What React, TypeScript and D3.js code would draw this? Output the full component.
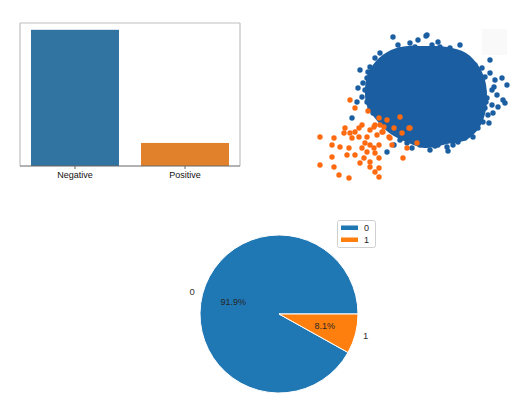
import React from "react";
import * as d3 from "d3";

// ---- Bar chart data ----
const barCategories = ["Negative", "Positive"];
const barValues = [4400, 745];
const barColors = ["#3274a1", "#e1812c"];

// ---- Scatter data (arbitrary feature units) ----
const blobOutline: [number, number][] = [
  [55, 90], [57, 109], [66, 124], [81, 135], [98, 139], [115, 139], [137, 138], [156, 132],
  [168, 120], [175, 105], [177, 87], [175, 71], [169, 57], [156, 45], [137, 41], [115, 37],
  [94, 44], [78, 53], [64, 68], [57, 79],
];
const bluePoints: [number, number][] = [
  [83, 148], [108, 145], [116, 149], [70, 132], [65, 127], [60, 118], [50, 115], [58, 113],
  [57, 107], [53, 102], [48, 97], [55, 95], [52, 88], [57, 83], [47, 83], [60, 77],
  [42, 67], [63, 72], [73, 123], [80, 130], [97, 132], [77, 117], [67, 110], [63, 100],
  [65, 90], [68, 82], [72, 73], [80, 67], [88, 60], [97, 57], [107, 50], [113, 45],
  [93, 50], [87, 53], [110, 40], [97, 42], [90, 45],
  [117, 150], [130, 138], [140, 137], [122, 140], [152, 128], [157, 127], [165, 120], [172, 117],
  [180, 125], [175, 108], [185, 105], [192, 107], [197, 100], [182, 95], [187, 90], [193, 85],
  [195, 82], [188, 78], [182, 80], [177, 87], [178, 70], [183, 72], [173, 63], [168, 57],
  [163, 48], [155, 47], [148, 43], [143, 40], [137, 38], [128, 40], [138, 34], [120, 35],
  [172, 100], [175, 77], [170, 70], [162, 60], [102, 37], [92, 47], [84, 40], [77, 33],
  [160, 123], [145, 130], [168, 110], [174, 93], [176, 83], [160, 53], [145, 45], [125, 39],
  [105, 43], [75, 63], [59, 93], [61, 105], [68, 119], [90, 135], [105, 138],
  [180, 112], [184, 98], [179, 62], [150, 140], [128, 143], [100, 142], [88, 140],
];
const orangePoints: [number, number][] = [
  [40, 85], [45, 77], [69, 67], [77, 65], [90, 68], [99, 57], [84, 57], [74, 58],
  [64, 58], [60, 55], [52, 60], [49, 57], [45, 53], [40, 52], [35, 57], [34, 52],
  [42, 47], [49, 48], [57, 48], [67, 50], [72, 53], [79, 48], [10, 48], [24, 47],
  [22, 40], [30, 38], [55, 42], [60, 40], [64, 37], [69, 40], [82, 40], [52, 37],
  [39, 37], [57, 33], [65, 32], [45, 30], [37, 30], [22, 28], [54, 27], [69, 27],
  [60, 23], [50, 22], [10, 20], [24, 18], [60, 18], [69, 17], [65, 13], [29, 10],
  [39, 7], [69, 8], [58, 74], [70, 60], [65, 60], [73, 53], [92, 52], [100, 57],
  [80, 47], [107, 42], [97, 37], [93, 27],
];

// ---- Pie data ----
const pieLabels = ["0", "1"];
const pieValues = [91.9, 8.1];
const pieColors = ["#1f77b4", "#ff7f0e"];

export default function App() {
  // Bar chart
  const bx = d3.scaleBand<string>().domain(barCategories).range([20, 240]).padding(0);
  const by = d3.scaleLinear().domain([0, d3.max(barValues)! * 1.05]).range([166, 23]);
  const barW = bx.bandwidth() * 0.8;

  // Scatter
  const sx = d3.scaleLinear().domain([0, 200]).range([310, 510]);
  const sy = d3.scaleLinear().domain([0, 160]).range([185, 25]);
  const blobPath = d3.line<[number, number]>()
    .x((d) => sx(d[0]))
    .y((d) => sy(d[1]))
    .curve(d3.curveCatmullRomClosed.alpha(0.5))(blobOutline) || "";

  // Pie
  const cx = 279, cy = 314, r = 79;
  const pie = d3.pie<number>().sort(null).startAngle(Math.PI / 2).endAngle(Math.PI / 2 - 2 * Math.PI);
  const arcs = pie(pieValues);
  const arcGen = d3.arc<d3.PieArcDatum<number>>().innerRadius(0).outerRadius(r);
  const total = d3.sum(pieValues);

  return (
    <svg width={518} height={402} style={{ position: "absolute", left: 0, top: 0, background: "#fff" }}
      fontFamily="'Liberation Sans', Arial, sans-serif">
      {/* ---- Bar chart ---- */}
      <g>
        {barCategories.map((c, i) => (
          <rect key={c} x={bx(c)! + (bx.bandwidth() - barW) / 2} y={by(barValues[i])}
            width={barW} height={166 - by(barValues[i])} fill={barColors[i]} />
        ))}
        <line x1={20} x2={20} y1={23} y2={166} stroke="#c0c0c0" strokeWidth={1.2} />
        <line x1={20} x2={240} y1={23} y2={23} stroke="#c0c0c0" strokeWidth={1.2} />
        <line x1={240} x2={240} y1={23} y2={166} stroke="#c0c0c0" strokeWidth={1.2} />
        <line x1={20} x2={240} y1={166} y2={166} stroke="#666" strokeWidth={1} />
        {barCategories.map((c) => {
          const x = bx(c)! + bx.bandwidth() / 2;
          return (
            <g key={c}>
              <line x1={x} x2={x} y1={166} y2={169} stroke="#666" />
              <text x={x} y={178} textAnchor="middle" fontSize={9} fill="#111">{c}</text>
            </g>
          );
        })}
      </g>

      {/* ---- Scatter ---- */}
      <g>
        <rect x={482} y={29} width={25} height={26} fill="#f9f9f9" />
        <path d={blobPath} fill="#1b5fa2" />
        {bluePoints.map((p, i) => (
          <circle key={"b" + i} cx={sx(p[0])} cy={sy(p[1])} r={2.7} fill="#1b5fa2" />
        ))}
        {orangePoints.map((p, i) => (
          <circle key={"o" + i} cx={sx(p[0])} cy={sy(p[1])} r={2.7} fill="#fd6a10" />
        ))}
      </g>

      {/* ---- Pie ---- */}
      <g transform={`translate(${cx},${cy})`}>
        {arcs.map((a, i) => (
          <path key={i} d={arcGen(a) || ""} fill={pieColors[i]} stroke="#fff" strokeWidth={1} />
        ))}
        {arcs.map((a, i) => {
          const mid = (a.startAngle + a.endAngle) / 2;
          const lx = Math.sin(mid) * r * 1.1;
          const ly = -Math.cos(mid) * r * 1.1;
          const px = Math.sin(mid) * r * 0.6;
          const py = -Math.cos(mid) * r * 0.6;
          return (
            <g key={"t" + i}>
              <text x={lx} y={ly} dy="0.35em" textAnchor={lx > 0 ? "start" : "end"} fontSize={9.5} fill="#333">
                {pieLabels[i]}
              </text>
              <text x={px} y={py} dy="0.35em" textAnchor="middle" fontSize={9} fill="#262626">
                {(pieValues[i] / total * 100).toFixed(1) + "%"}
              </text>
            </g>
          );
        })}
      </g>
      {/* Legend */}
      <g>
        <rect x={337.5} y={220.5} width={38} height={27} rx={2} fill="#fff" stroke="#d0d0d0" />
        {pieLabels.map((l, i) => (
          <g key={l}>
            <rect x={341} y={225.5 + i * 12} width={17} height={4.5} fill={pieColors[i]} />
            <text x={364} y={228 + i * 12} dy="0.35em" fontSize={9} fill="#262626">{l}</text>
          </g>
        ))}
      </g>
    </svg>
  );
}
